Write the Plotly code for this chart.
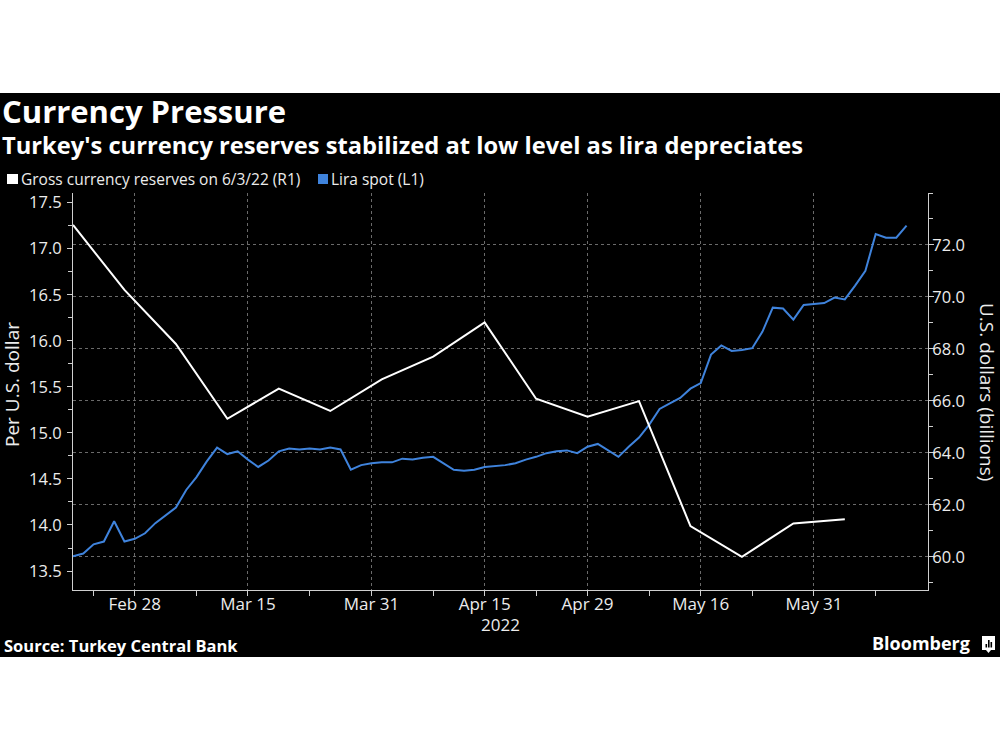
import pandas as pd
import plotly.graph_objects as go

# ---------------- data ----------------
lira_dates = pd.bdate_range("2022-02-18", "2022-06-13")
lira_spot = [
    13.66, 13.69, 13.79, 13.82, 14.04, 13.82, 13.85, 13.91, 14.02, 14.11,
    14.19, 14.38, 14.52, 14.69, 14.84, 14.77, 14.80, 14.71, 14.63, 14.70,
    14.80, 14.83, 14.82, 14.83, 14.82, 14.84, 14.82, 14.60, 14.65, 14.67,
    14.68, 14.68, 14.72, 14.71, 14.73, 14.74, 14.67, 14.60, 14.59, 14.60,
    14.63, 14.64, 14.65, 14.67, 14.71, 14.74, 14.78, 14.80, 14.81, 14.78,
    14.85, 14.88, 14.81, 14.74, 14.85, 14.95, 15.09, 15.26, 15.32, 15.38,
    15.48, 15.54, 15.85, 15.95, 15.89, 15.90, 15.92, 16.10, 16.36, 16.35,
    16.23, 16.39, 16.40, 16.41, 16.47, 16.45, 16.60, 16.76, 17.16, 17.12,
    17.12, 17.25,
]
reserve_dates = pd.date_range("2022-02-18", "2022-06-03", freq="W-FRI")
reserves = [
    72.77, 70.27, 68.19, 65.31, 66.47, 65.61, 66.83, 67.70,
    69.02, 66.08, 65.39, 65.99, 61.18, 60.00, 61.28, 61.44,
]
x_tick_dates = ["2022-02-28", "2022-03-15", "2022-03-31", "2022-04-15",
                "2022-04-29", "2022-05-16", "2022-05-31"]
x_tick_labels = ["Feb 28", "Mar 15", "Mar 31", "Apr 15", "Apr 29", "May 16", "May 31"]
x_minor_dates = ["2022-02-22", "2022-03-08", "2022-03-23", "2022-04-08",
                 "2022-04-22", "2022-05-09", "2022-05-23", "2022-06-08"]
left_ticks = [13.5, 14.0, 14.5, 15.0, 15.5, 16.0, 16.5, 17.0, 17.5]
right_ticks = [60, 62, 64, 66, 68, 70, 72]

# ---------------- layout helpers ----------------
W, H = 1000, 750
L, R, T, B = 73, 928, 193, 590
def px(X):
    return (X - L) / (R - L)
def py(Y):
    return (B - Y) / (B - T)

FONT = "Open Sans"
BLUE = "#3f83dc"
AXC = "#cfcfcf"
GRID = "#6a6a6a"
TXT = "#ececec"

fig = go.Figure()
fig.add_trace(go.Scatter(x=reserve_dates, y=reserves, yaxis="y2", mode="lines",
                         line=dict(color="white", width=2), name="Gross currency reserves on 6/3/22 (R1)"))
fig.add_trace(go.Scatter(x=lira_dates, y=lira_spot, yaxis="y", mode="lines",
                         line=dict(color=BLUE, width=2), name="Lira spot (L1)"))

fig.update_layout(
    width=W, height=H,
    margin=dict(l=L, r=W - R, t=T, b=H - B, pad=0),
    paper_bgcolor="white", plot_bgcolor="black",
    showlegend=False,
    font=dict(family=FONT, color="white"),
    xaxis=dict(
        type="date",
        range=["2022-02-18", "2022-06-15 02:00"],
        rangebreaks=[dict(bounds=["sat", "mon"])],
        tickmode="array", tickvals=x_tick_dates, ticktext=x_tick_labels,
        ticks="outside", ticklen=5, tickcolor=AXC, tickwidth=1,
        showline=True, linecolor=AXC, linewidth=1,
        showgrid=True, gridcolor=GRID, griddash="dot", gridwidth=1,
        tickfont=dict(size=17, color=TXT, family=FONT),
        ticklabelstandoff=-6,
        minor=dict(tickmode="array", tickvals=x_minor_dates, ticks="outside",
                   ticklen=5, tickcolor=AXC, showgrid=False),
        zeroline=False,
    ),
    yaxis=dict(
        range=[13.294, 17.605],
        tickmode="array", tickvals=left_ticks, tickformat=".1f",
        ticks="outside", ticklen=5, tickcolor=AXC,
        showline=True, linecolor=AXC, linewidth=1,
        showgrid=False, zeroline=False,
        tickfont=dict(size=16.5, color=TXT, family=FONT),
        ticklabelstandoff=2,
        minor=dict(dtick=0.25, tick0=13.25, ticks="outside", ticklen=4, tickcolor=AXC, showgrid=False),
    ),
    yaxis2=dict(
        overlaying="y", side="right", anchor="x",
        range=[58.72, 74.0],
        tickmode="array", tickvals=right_ticks, tickformat=".1f",
        ticks="outside", ticklen=5, tickcolor=AXC,
        showline=True, linecolor=AXC, linewidth=1,
        showgrid=True, gridcolor=GRID, griddash="dot", gridwidth=1,
        zeroline=False,
        tickfont=dict(size=16.5, color=TXT, family=FONT),
        ticklabelstandoff=-5,
        minor=dict(dtick=1, tick0=59, ticks="outside", ticklen=4, tickcolor=AXC, showgrid=False),
    ),
)

shapes = [
    dict(type="rect", xref="paper", yref="paper", x0=px(-5), x1=px(1005), y0=py(93), y1=py(657),
         fillcolor="black", line=dict(width=0), layer="below"),
    dict(type="rect", xref="paper", yref="paper", x0=px(7), x1=px(18), y0=py(184), y1=py(174),
         fillcolor="white", line=dict(width=0)),
    dict(type="rect", xref="paper", yref="paper", x0=px(318), x1=px(328), y0=py(184), y1=py(174),
         fillcolor=BLUE, line=dict(width=0)),
    # Bloomberg icon
    dict(type="rect", xref="paper", yref="paper", x0=px(982), x1=px(995), y0=py(650), y1=py(636),
         fillcolor="white", line=dict(width=0)),
    dict(type="path", xref="paper", yref="paper",
         path=f"M {px(986)},{py(650)} L {px(988.5)},{py(653)} L {px(991)},{py(650)} Z",
         fillcolor="white", line=dict(width=0)),
]
for bx, btop in [(985.5, 644), (988, 640), (990.5, 642)]:
    shapes.append(dict(type="rect", xref="paper", yref="paper", x0=px(bx), x1=px(bx + 1.6),
                       y0=py(647.5), y1=py(btop), fillcolor="black", line=dict(width=0)))
fig.update_layout(shapes=shapes)

def ann(text, X, Y, size, bold=False, xanchor="left", angle=0, color="white"):
    if bold:
        text = f"<b>{text}</b>"
    fig.add_annotation(text=text, x=px(X), y=py(Y), xref="paper", yref="paper",
                       xanchor=xanchor, yanchor="middle", showarrow=False, textangle=angle,
                       font=dict(family=FONT, size=size, color=color))

ann("Currency Pressure", 0, 111, 31, bold=True)
ann("Turkey's currency reserves stabilized at low level as lira depreciates", 0, 145, 23.7, bold=True)
ann("Gross currency reserves on 6/3/22 (R1)", 19, 179, 15.5, color=TXT)
ann("Lira spot (L1)", 329, 179, 15.5, color=TXT)
ann("Per U.S. dollar", 12, 384, 19, xanchor="center", angle=-90, color=TXT)
ann("U.S. dollars (billions)", 987, 392, 19, xanchor="center", angle=90, color=TXT)
ann("2022", 500, 624, 17, xanchor="center", color=TXT)
ann("Source: Turkey Central Bank", 2, 645, 16.5, bold=True)
ann("Bloomberg", 972, 643, 18, bold=True, xanchor="right")

fig.write_html("out.html", config={"displayModeBar": False},
               post_script="document.body.style.margin='0';document.body.style.overflow='hidden';")
